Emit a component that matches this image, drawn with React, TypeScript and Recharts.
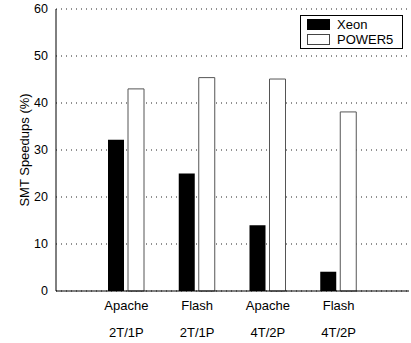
import React from 'react';
import { BarChart, Bar, XAxis, YAxis, CartesianGrid, Legend } from 'recharts';

const workloads = ['Apache', 'Flash', 'Apache', 'Flash'];
const configs = ['2T/1P', '2T/1P', '4T/2P', '4T/2P'];
const xeon = [32.2, 25.0, 14.0, 4.1];
const power5 = [43.0, 45.4, 45.1, 38.1];
const yTicks = [0, 10, 20, 30, 40, 50, 60];

const data = workloads.map((w, i) => ({
  key: `${w} ${configs[i]}`,
  workload: w,
  config: configs[i],
  xeon: xeon[i],
  power5: power5[i],
}));

const FONT = '"Liberation Sans", Arial, Helvetica, sans-serif';
const PAD = { left: 35, right: 35 };

const XTick = (props: any) => {
  const { x, y, index } = props;
  return (
    <g>
      <text x={x} y={y + 17} textAnchor="middle" fontSize={13} fontFamily={FONT} fill="#000">
        {workloads[index]}
      </text>
      <text x={x} y={y + 44} textAnchor="middle" fontSize={13} fontFamily={FONT} fill="#000">
        {configs[index]}
      </text>
    </g>
  );
};

// inward tick marks only, no labels
const NoLabel = () => <g />;

const LegendBox = () => (
  <div
    style={{
      width: 101,
      height: 32,
      border: '1px solid #000',
      background: '#fff',
      position: 'relative',
      fontFamily: FONT,
      fontSize: 13,
    }}
  >
    <div style={{ position: 'absolute', left: 6, top: 3, width: 23, height: 11, background: '#000' }} />
    <div style={{ position: 'absolute', left: 36, top: 0, lineHeight: '17px' }}>Xeon</div>
    <div
      style={{
        position: 'absolute',
        left: 6,
        top: 18,
        width: 21,
        height: 9,
        background: '#fff',
        border: '1px solid #444',
      }}
    />
    <div style={{ position: 'absolute', left: 36, top: 15, lineHeight: '17px' }}>POWER5</div>
  </div>
);

export default function App() {
  return (
    <div style={{ position: 'absolute', left: 0, top: 0, width: 411, height: 343, background: '#fff' }}>
      <BarChart
        width={411}
        height={343}
        data={data}
        margin={{ top: 9, right: 2, bottom: 0, left: 0 }}
        barSize={16}
        barGap={4}
      >
        <CartesianGrid vertical={false} stroke="#222" strokeDasharray="1 4" />
        <XAxis
          dataKey="key"
          height={52}
          padding={PAD}
          axisLine={{ stroke: '#000' }}
          tickLine={false}
          tickSize={0}
          tick={<XTick />}
          interval={0}
        />
        <XAxis xAxisId="bin" dataKey="key" mirror height={0} padding={PAD} axisLine={false} tick={<NoLabel />} interval={0} tickSize={4} tickLine={{ stroke: '#000' }} />
        <XAxis xAxisId="top" dataKey="key" orientation="top" mirror height={0} padding={PAD} axisLine={{ stroke: '#000' }} tick={<NoLabel />} interval={0} tickSize={4} tickLine={{ stroke: '#000' }} />
        <YAxis
          width={56}
          domain={[0, 60]}
          ticks={yTicks}
          axisLine={{ stroke: '#000' }}
          tickLine={false}
          tickSize={6}
          tick={{ fontSize: 12.5, fill: '#000', fontFamily: FONT }}
          label={{
            value: 'SMT Speedups (%)',
            angle: -90,
            position: 'center',
            dx: -4,
            style: { fontSize: 13, fill: '#000', fontFamily: FONT, textAnchor: 'middle' },
          }}
        />
        <YAxis yAxisId="lin" mirror width={0} domain={[0, 60]} ticks={yTicks} axisLine={false} tick={<NoLabel />} tickSize={4} tickLine={{ stroke: '#000' }} />
        <YAxis yAxisId="right" orientation="right" mirror width={0} domain={[0, 60]} ticks={yTicks} axisLine={{ stroke: '#000' }} tick={<NoLabel />} tickSize={4} tickLine={{ stroke: '#000' }} />
        <Legend
          layout="vertical"
          align="center"
          verticalAlign="middle"
          content={<LegendBox />}
          wrapperStyle={{ position: 'absolute', left: 300, top: 15, width: 103, height: 34 }}
        />
        <Bar dataKey="xeon" name="Xeon" fill="#000" isAnimationActive={false} />
        <Bar dataKey="power5" name="POWER5" fill="#fff" stroke="#555" strokeWidth={1} isAnimationActive={false} />
      </BarChart>
    </div>
  );
}
